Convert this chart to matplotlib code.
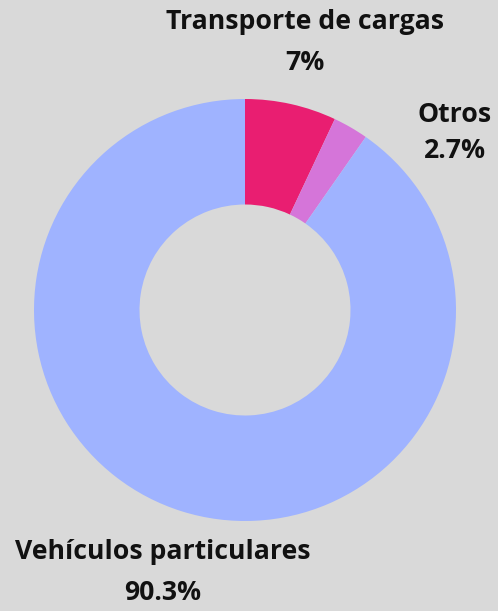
import matplotlib.pyplot as plt

categorias = ["Transporte de cargas", "Otros", "Vehículos particulares"]
valores = [7, 2.7, 90.3]
etiquetas_pct = ["7%", "2.7%", "90.3%"]
colores = ["#e91e71", "#d575d9", "#9fb3ff"]

# label positions in pixels (center x, name y, pct y)
pos_etiquetas = [(305, 22, 63), (455, 115, 151), (163, 552, 593)]

W, H = 498, 611
fondo = "#d9d9d9"

fig = plt.figure(figsize=(W / 100, H / 100), dpi=100, facecolor=fondo)
cx, cy, r = 245, 310, 211
ax = fig.add_axes([(cx - r) / W, (H - cy - r) / H, 2 * r / W, 2 * r / H])
ax.set_facecolor(fondo)
ax.pie(valores, colors=colores, startangle=90, counterclock=False,
       radius=1, wedgeprops=dict(width=0.5, linewidth=0))
ax.set_xlim(-1, 1)
ax.set_ylim(-1, 1)
ax.set_aspect("equal")
ax.axis("off")

for nombre, pct, (x, y1, y2) in zip(categorias, etiquetas_pct, pos_etiquetas):
    fig.text(x / W, 1 - y1 / H, nombre, ha="center", va="center",
             fontsize=19.2, fontweight="bold", family="Open Sans", color="#111111")
    fig.text(x / W, 1 - y2 / H, pct, ha="center", va="center",
             fontsize=19.2, fontweight="bold", family="Open Sans", color="#111111")

fig.savefig("out.png", dpi=100, facecolor=fondo)
